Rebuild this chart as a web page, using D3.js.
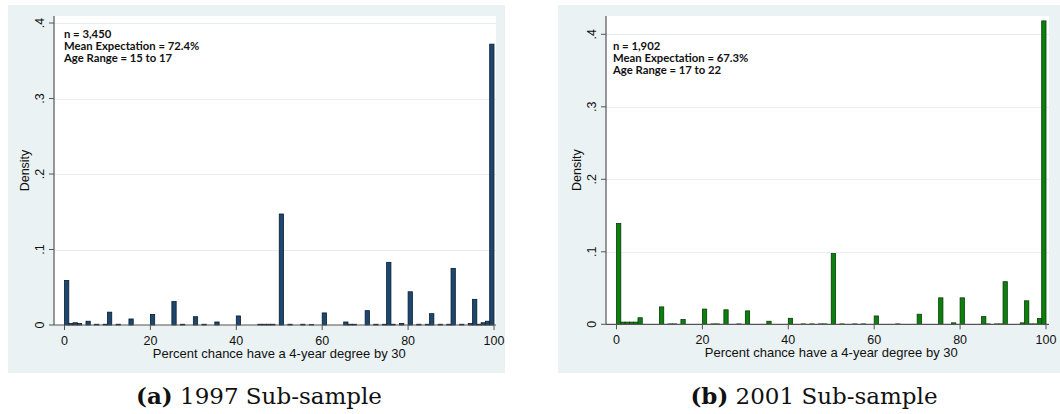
<!DOCTYPE html>
<html>
<head>
<meta charset="utf-8">
<script src="https://cdn.jsdelivr.net/npm/d3@7"></script>
<style>
  body { margin: 0; background: #fff; }
  svg { display: block; }
</style>
</head>
<body>
<svg id="chart" width="1060" height="414"></svg>
<script>
// bin start (percent, width 1) and density
var bins1997 = [0, 1, 2, 3, 5, 7, 9, 10, 12, 15, 20, 25, 27, 30, 32, 35, 40, 45, 46, 47, 48,
                50, 52, 55, 57, 60, 65, 66, 67, 70, 72, 74, 75, 76, 78, 80, 82, 84, 85, 87,
                89, 90, 92, 94, 95, 96, 97, 98, 99];
var dens1997 = [0.059, 0.002, 0.003, 0.002, 0.005, 0.001, 0.001, 0.017, 0.001, 0.008, 0.014,
                0.031, 0.001, 0.011, 0.001, 0.004, 0.012, 0.001, 0.001, 0.001, 0.001,
                0.147, 0.001, 0.001, 0.0005, 0.016, 0.004, 0.001, 0.001, 0.019, 0.001, 0.001,
                0.083, 0.001, 0.002, 0.044, 0.001, 0.001, 0.015, 0.001,
                0.001, 0.075, 0.001, 0.002, 0.034, 0.001, 0.003, 0.005, 0.372];

var bins2001 = [0, 1, 2, 3, 4, 5, 10, 12, 13, 15, 20, 22, 23, 25, 28, 30, 35, 40, 43, 45, 47, 48,
                50, 52, 55, 57, 60, 65, 70, 75, 78, 80, 85, 86, 88, 89, 90, 94, 95, 96, 97, 98, 99];
var dens2001 = [0.139, 0.003, 0.003, 0.003, 0.003, 0.009, 0.024, 0.0005, 0.0005, 0.0065, 0.021,
                0.0005, 0.0005, 0.020, 0.0005, 0.0185, 0.0042, 0.0083, 0.0005, 0.0005, 0.0005, 0.0005,
                0.0976, 0.0005, 0.0005, 0.0005, 0.0115, 0.0005, 0.0139, 0.0365, 0.002, 0.0365,
                0.0106, 0.0005, 0.0005, 0.0005, 0.0588, 0.002, 0.0324, 0.0005, 0.0005, 0.0079, 0.4185];

var xTicks = [0, 20, 40, 60, 80, 100];
var yTicks = [0, 0.1, 0.2, 0.3, 0.4];
var yTickLabels = ["0", ".1", ".2", ".3", ".4"];

var notes1997 = ["n = 3,450", "Mean Expectation = 72.4%", "Age Range = 15 to 17"];
var notes2001 = ["n = 1,902", "Mean Expectation = 67.3%", "Age Range = 17 to 22"];

var xTitle = "Percent chance have a 4-year degree by 30";
var yTitle = "Density";

var svg = d3.select("#chart");

var BG = "#eaf2f3";
var GRID = "#e6eef0";
var AXIS = "#555";
var SANS = "'Liberation Sans', Arial, sans-serif";

function drawPanel(p) {
	var g = svg.append("g");

	// outer graph region and white plot region
	g.append("rect").attr("x", p.bg[0]).attr("y", p.bg[1])
		.attr("width", p.bg[2]).attr("height", p.bg[3]).attr("fill", BG);
	g.append("rect").attr("x", p.plot[0]).attr("y", p.plot[1])
		.attr("width", p.plot[2] - p.plot[0]).attr("height", p.plot[3] - p.plot[1])
		.attr("fill", "#fff");

	var x = d3.scaleLinear().domain([0, 100]).range(p.xr);
	var y = d3.scaleLinear().domain([0, 0.4]).range(p.yr);

	// gridlines
	g.selectAll(".grid").data(yTicks.slice(1)).enter().append("line")
		.attr("x1", p.plot[0]).attr("x2", p.plot[2])
		.attr("y1", function(d) { return Math.round(y(d)) + 0.5; })
		.attr("y2", function(d) { return Math.round(y(d)) + 0.5; })
		.attr("stroke", GRID).attr("stroke-width", 1.2);

	// bars
	var rows = p.bins.map(function(b, i) { return {b: b, d: p.dens[i]}; });
	g.selectAll(".bar").data(rows).enter().append("rect")
		.attr("x", function(r) { return x(r.b); })
		.attr("width", function(r) { return x(r.b + 1) - x(r.b); })
		.attr("y", function(r) { return y(r.d); })
		.attr("height", function(r) { return y(0) - y(r.d); })
		.attr("fill", p.fill).attr("stroke", p.stroke).attr("stroke-width", 0.8);

	// axes
	var axisY = p.plot[3];
	g.append("line").attr("x1", p.plot[0]).attr("x2", p.plot[2])
		.attr("y1", axisY).attr("y2", axisY).attr("stroke", AXIS).attr("stroke-width", 1.2);
	g.append("line").attr("x1", p.plot[0]).attr("x2", p.plot[0])
		.attr("y1", p.plot[1]).attr("y2", axisY).attr("stroke", AXIS).attr("stroke-width", 1.2);

	g.selectAll(".xt").data(xTicks).enter().append("line")
		.attr("x1", function(d) { return x(d); }).attr("x2", function(d) { return x(d); })
		.attr("y1", axisY).attr("y2", axisY + 5).attr("stroke", AXIS);
	g.selectAll(".xl").data(xTicks).enter().append("text")
		.attr("x", function(d) { return x(d); }).attr("y", axisY + 19.5)
		.attr("text-anchor", "middle")
		.style("font", "12.5px " + SANS).attr("fill", "#111")
		.text(function(d) { return d; });

	g.selectAll(".yt").data(yTicks).enter().append("line")
		.attr("x1", p.plot[0] - 5).attr("x2", p.plot[0])
		.attr("y1", function(d) { return y(d); }).attr("y2", function(d) { return y(d); })
		.attr("stroke", AXIS);
	g.selectAll(".yl").data(yTicks).enter().append("text")
		.attr("transform", function(d) { return "translate(" + (p.plot[0] - 10.5) + "," + y(d) + ") rotate(-90)"; })
		.attr("text-anchor", "middle")
		.style("font", "12.5px " + SANS).attr("fill", "#111")
		.text(function(d, i) { return yTickLabels[i]; });

	// axis titles
	g.append("text").attr("x", (p.xr[0] + p.xr[1]) / 2).attr("y", axisY + 32.5)
		.attr("text-anchor", "middle")
		.style("font", "13px " + SANS).attr("fill", "#111")
		.text(xTitle);
	g.append("text")
		.attr("transform", "translate(" + (p.plot[0] - 25) + "," + ((p.plot[1] + axisY) / 2) + ") rotate(-90)")
		.attr("text-anchor", "middle")
		.style("font", "12.5px " + SANS).attr("fill", "#111")
		.text(yTitle);

	// note box text
	g.selectAll(".note").data(p.notes).enter().append("text")
		.attr("x", p.noteX).attr("y", function(d, i) { return p.noteY + i * 12.4; })
		.style("font", "bold 11.3px Lato, 'Open Sans', sans-serif").attr("fill", "#111")
		.text(function(d) { return d; });

	// subfigure caption
	var cap = svg.append("text").attr("x", p.capX).attr("y", 404)
		.attr("text-anchor", "middle")
		.style("font", "23px 'DejaVu Serif', 'Liberation Serif', serif").attr("fill", "#111");
	cap.append("tspan").style("font-weight", "bold").text(p.capTag);
	cap.append("tspan").text(" " + p.capText);
}

drawPanel({
	bg: [8, 5, 497, 368],
	plot: [54, 16, 496, 325],
	xr: [64.5, 494],
	yr: [325, 23],
	bins: bins1997, dens: dens1997,
	fill: "#1b4770", stroke: "#0c1c2c",
	notes: notes1997, noteX: 64, noteY: 37.5,
	capX: 259, capTag: "(a)", capText: "1997 Sub-sample"
});

drawPanel({
	bg: [558, 5, 502, 368],
	plot: [606, 16, 1049, 324.3],
	xr: [616.5, 1046],
	yr: [324.3, 34.3],
	bins: bins2001, dens: dens2001,
	fill: "#0b800b", stroke: "#0a3a0a",
	notes: notes2001, noteX: 613, noteY: 49.5,
	capX: 814, capTag: "(b)", capText: "2001 Sub-sample"
});
</script>
</body>
</html>
